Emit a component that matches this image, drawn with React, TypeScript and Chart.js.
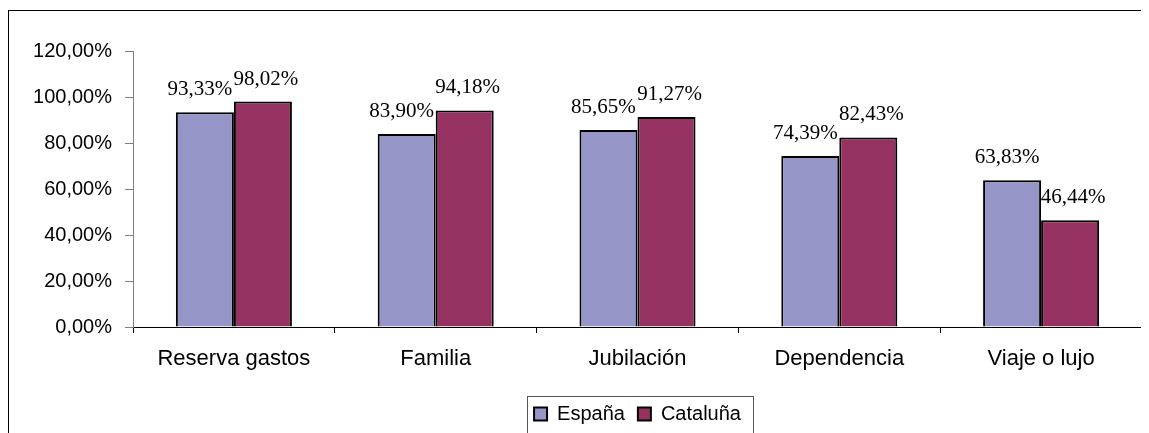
import React, { useEffect, useRef } from "react";
import { Chart, registerables } from "chart.js";

Chart.register(...registerables);

const categories = ["Reserva gastos", "Familia", "Jubilación", "Dependencia", "Viaje o lujo"];
const espana = [93.33, 83.9, 85.65, 74.39, 63.83];
const cataluna = [98.02, 94.18, 91.27, 82.43, 46.44];
const seriesNames = ["España", "Cataluña"];
const yTicks = [0, 20, 40, 60, 80, 100, 120];

const fmt = (v: number) => v.toFixed(2).replace(".", ",") + "%";

const SANS = "'Liberation Sans', Arial, sans-serif";
const SERIF = "'Liberation Serif', 'Times New Roman', serif";

const labelShift = [-5, 3];

const valueLabels = {
  id: "valueLabels",
  afterDatasetsDraw(chart: any) {
    const ctx = chart.ctx;
    ctx.save();
    ctx.font = `21px ${SERIF}`;
    ctx.fillStyle = "#000";
    ctx.textAlign = "center";
    ctx.textBaseline = "alphabetic";
    chart.data.datasets.forEach((ds: any, di: number) => {
      const meta = chart.getDatasetMeta(di);
      meta.data.forEach((bar: any, i: number) => {
        ctx.fillText(fmt(ds.data[i]), bar.x + labelShift[di], bar.y - 17);
      });
    });
    ctx.restore();
  },
};

const legendBorder = {
  id: "legendBorder",
  afterDraw(chart: any) {
    const lg = chart.legend;
    if (!lg || !lg.legendHitBoxes || !lg.legendHitBoxes.length) return;
    const hb = lg.legendHitBoxes;
    let l = Infinity, r = -Infinity, c = 0;
    hb.forEach((h: any) => {
      l = Math.min(l, h.left);
      r = Math.max(r, h.left + h.width);
      c = h.top + h.height / 2;
    });
    const ctx = chart.ctx;
    ctx.save();
    ctx.strokeStyle = "#555";
    ctx.lineWidth = 1;
    ctx.strokeRect(Math.round(l - 7) + 0.5, Math.round(c - 18) + 0.5, Math.round(r - l + 19), 37);
    ctx.restore();
  },
};

export default function App() {
  const ref = useRef<HTMLCanvasElement | null>(null);
  useEffect(() => {
    document.body.style.overflow = "hidden";
    const canvas = ref.current!;
    const chart = new Chart(canvas, {
      type: "bar",
      data: {
        labels: categories,
        datasets: [
          {
            label: seriesNames[0],
            data: espana,
            backgroundColor: "#9595C8",
            borderColor: "#000",
            borderWidth: 2,
            categoryPercentage: 0.575,
            barPercentage: 1,
          },
          {
            label: seriesNames[1],
            data: cataluna,
            backgroundColor: "#963262",
            borderColor: "#000",
            borderWidth: 2,
            categoryPercentage: 0.575,
            barPercentage: 1,
          },
        ],
      },
      options: {
        responsive: false,
        animation: false,
        devicePixelRatio: 1,
        layout: { padding: { top: 40, right: 7, left: 0, bottom: 7 } },
        plugins: {
          legend: {
            position: "bottom",
            fullSize: false,
            labels: {
              boxWidth: 13,
              boxHeight: 13,
              padding: 13,
              color: "#000",
              font: { family: SANS, size: 20 },
            },
          },
          tooltip: { enabled: false },
        },
        scales: {
          x: {
            grid: {
              display: true,
              drawOnChartArea: false,
              tickLength: 6,
              color: "#000",
              offset: true,
            },
            border: { color: "#000", width: 1 },
            ticks: {
              color: "#000",
              font: { family: SANS, size: 22 },
              padding: 13,
              maxRotation: 0,
              autoSkip: false,
            },
            afterFit(scale: any) {
              scale.height = 64;
            },
          },
          y: {
            min: 0,
            max: 120,
            afterBuildTicks(scale: any) {
              scale.ticks = yTicks.map((v) => ({ value: v }));
            },
            grid: {
              display: true,
              drawOnChartArea: false,
              tickLength: 8,
              color: "#808080",
            },
            border: { color: "#808080", width: 1 },
            ticks: {
              color: "#000",
              font: { family: SANS, size: 20 },
              padding: 13,
              callback: (v: any) => fmt(Number(v)),
            },
            afterFit(scale: any) {
              scale.width = 124;
            },
          },
        },
      },
      plugins: [valueLabels, legendBorder],
    });
    return () => chart.destroy();
  }, []);

  return (
    <div
      style={{
        marginTop: 2,
        width: 1141,
        height: 423,
        boxSizing: "border-box",
        borderTop: "1px solid #000",
        borderLeft: "1px solid #000",
        overflow: "hidden",
        background: "#fff",
      }}
    >
      <canvas
        ref={ref}
        width={1140}
        height={430}
        style={{ display: "block", width: 1140, height: 430 }}
      />
    </div>
  );
}
